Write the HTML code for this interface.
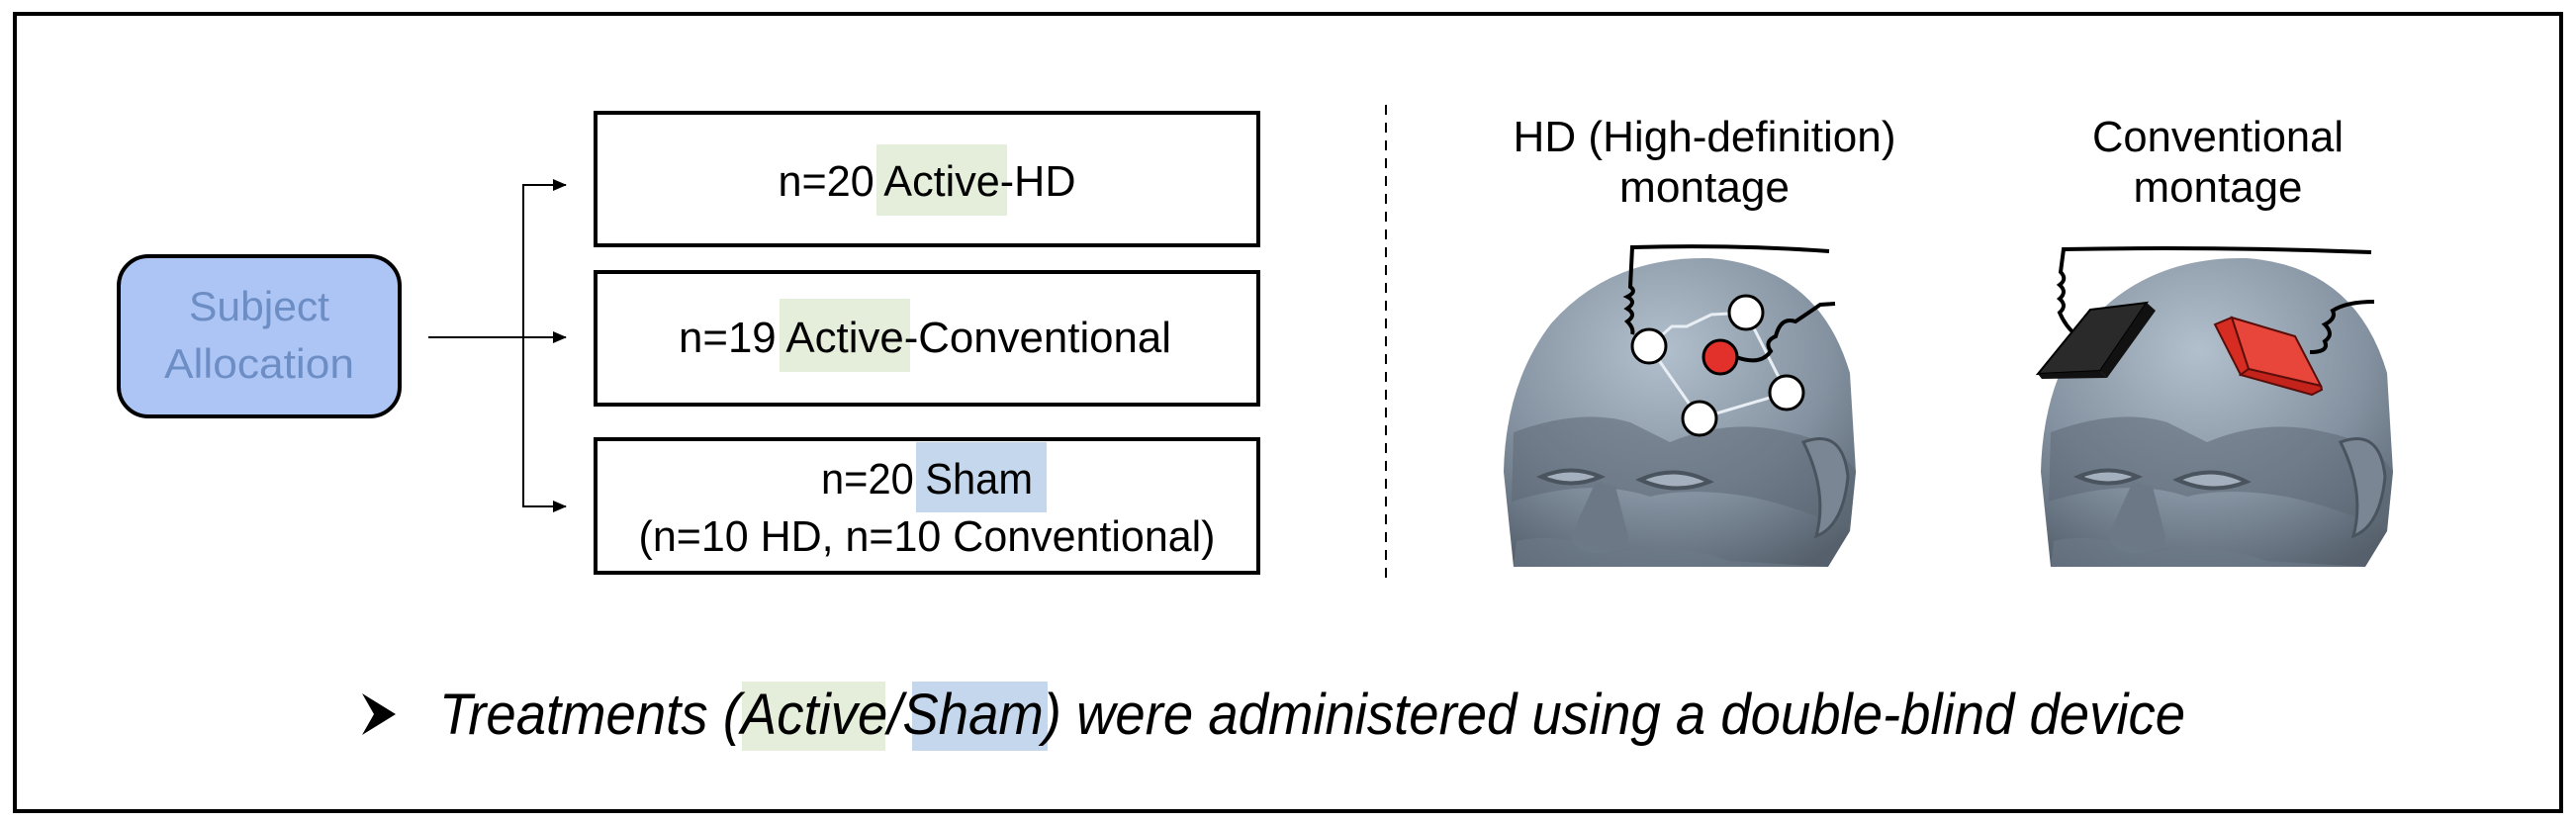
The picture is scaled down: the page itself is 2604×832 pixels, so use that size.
<!DOCTYPE html>
<html><head><meta charset="utf-8"><style>
html,body{margin:0;padding:0;background:#fff;}
svg{display:block;}
text{font-family:"Liberation Sans",sans-serif;}
</style></head><body>
<svg width="2604" height="832" viewBox="0 0 2604 832" xmlns="http://www.w3.org/2000/svg">
<defs>
<marker id="ah" markerWidth="14" markerHeight="12" refX="13" refY="6" orient="auto" markerUnits="userSpaceOnUse">
<path d="M0,0 L14,6 L0,12 Z" fill="#000"/></marker>
<radialGradient id="hg" cx="0.45" cy="0.3" r="0.8">
<stop offset="0" stop-color="#b2bfcc"/><stop offset="0.6" stop-color="#8391a0"/><stop offset="1" stop-color="#55606c"/></radialGradient>
<g id="head">
<path d="M12,326 L2,230 Q4,140 50,80 Q110,12 210,14 Q320,22 352,130 L358,230 L352,290 L330,326 Z" fill="url(#hg)"/>
<path d="M12,190 Q80,165 130,180 L170,200 Q230,175 290,190 Q340,200 358,230 L352,290 Q300,265 250,255 Q190,245 150,255 Q90,235 10,260 Z" fill="#5d6874" opacity="0.55"/>
<path d="M40,235 Q70,222 100,235 Q70,248 40,235 Z" fill="#a4b0bd" stroke="#4a545f" stroke-width="4"/>
<path d="M140,238 Q175,222 210,240 Q175,254 140,238 Z" fill="#a4b0bd" stroke="#4a545f" stroke-width="4"/>
<path d="M95,240 L70,295 Q75,315 105,312 Q130,310 128,295 L115,245 Z" fill="#6c7885"/>
<path d="M15,300 Q60,290 110,312 Q180,300 230,320 L330,326 L12,326 Z" fill="#6d7987" opacity="0.6"/>
<path d="M305,200 Q345,185 350,235 Q345,285 318,295 Q330,250 305,200 Z" fill="#7a8694" stroke="#4a545f" stroke-width="3"/>
</g>
</defs>
<rect x="15" y="14" width="2574" height="806" fill="none" stroke="#000" stroke-width="4"/>
<rect x="120" y="259" width="284" height="162" rx="30" fill="#adc5f5" stroke="#000" stroke-width="4"/>
<text x="262" y="324" text-anchor="middle" font-size="42" fill="#6d8ec5" textLength="142" lengthAdjust="spacingAndGlyphs">Subject</text>
<text x="262" y="382" text-anchor="middle" font-size="42" fill="#6d8ec5" textLength="192" lengthAdjust="spacingAndGlyphs">Allocation</text>
<line x1="433" y1="341" x2="572" y2="341" stroke="#000" stroke-width="2" marker-end="url(#ah)"/>
<polyline points="570,187 529,187 529,512 570,512" fill="none" stroke="#000" stroke-width="2"/>
<line x1="550" y1="187" x2="572" y2="187" stroke="#000" stroke-width="2" marker-end="url(#ah)"/>
<line x1="550" y1="512" x2="572" y2="512" stroke="#000" stroke-width="2" marker-end="url(#ah)"/>
<rect x="886" y="146" width="132" height="72" fill="#e5eedb"/>
<rect x="788" y="302" width="132" height="74" fill="#e5eedb"/>
<rect x="926" y="447" width="132" height="71" fill="#c5d7ec"/>
<rect x="602" y="114" width="670" height="134" fill="none" stroke="#000" stroke-width="4"/>
<rect x="602" y="275" width="670" height="134" fill="none" stroke="#000" stroke-width="4"/>
<rect x="602" y="444" width="670" height="135" fill="none" stroke="#000" stroke-width="4"/>
<text x="937" y="198" text-anchor="middle" font-size="44" textLength="301" lengthAdjust="spacingAndGlyphs">n=20 Active-HD</text>
<text x="935" y="356" text-anchor="middle" font-size="44" textLength="498" lengthAdjust="spacingAndGlyphs">n=19 Active-Conventional</text>
<text x="937" y="499" text-anchor="middle" font-size="44" textLength="214" lengthAdjust="spacingAndGlyphs">n=20 Sham</text>
<text x="937" y="557" text-anchor="middle" font-size="44" textLength="583" lengthAdjust="spacingAndGlyphs">(n=10 HD, n=10 Conventional)</text>
<rect x="750" y="689" width="145" height="70" fill="#e5eedb"/>
<rect x="922" y="689" width="137" height="70" fill="#c5d7ec"/>
<path d="M366,701 L400,722 L366,743 L378,722 Z" fill="#000"/>
<text x="444" y="742" font-size="58" font-style="italic" textLength="1765" lengthAdjust="spacingAndGlyphs">Treatments (Active/Sham) were administered using a double-blind device</text>
<line x1="1401" y1="106" x2="1401" y2="589" stroke="#000" stroke-width="2" stroke-dasharray="10,8"/>
<text x="1723" y="153" text-anchor="middle" font-size="44" textLength="387" lengthAdjust="spacingAndGlyphs">HD (High-definition)</text>
<text x="1723" y="204" text-anchor="middle" font-size="44" textLength="172" lengthAdjust="spacingAndGlyphs">montage</text>
<text x="2242" y="153" text-anchor="middle" font-size="44" textLength="254" lengthAdjust="spacingAndGlyphs">Conventional</text>
<text x="2242" y="204" text-anchor="middle" font-size="44" textLength="171" lengthAdjust="spacingAndGlyphs">montage</text>
<use href="#head" x="1518" y="247"/>
<polyline points="1667,350 1690,330 1705,330 1730,318 1765,316 1806,397 1718,423 1667,350" fill="none" stroke="#e8eef4" stroke-width="3"/>
<path d="M1849,254 Q1750,247 1650,250 L1648,290 Q1655,295 1645,300 Q1655,305 1645,312 Q1655,318 1645,325 Q1652,332 1650,338" fill="none" stroke="#000" stroke-width="4"/>
<path d="M1755,361 Q1780,370 1790,355 Q1783,345 1795,340 Q1800,320 1815,325 Q1830,315 1840,308 L1855,307" fill="none" stroke="#000" stroke-width="4"/>
<g stroke="#000" stroke-width="3">
<circle cx="1667" cy="350" r="17" fill="#fff"/>
<circle cx="1765" cy="316" r="17" fill="#fff"/>
<circle cx="1806" cy="397" r="17" fill="#fff"/>
<circle cx="1718" cy="423" r="17" fill="#fff"/>
<circle cx="1739" cy="361" r="17" fill="#e2302a"/>
</g>
<use href="#head" x="2061" y="247"/>
<path d="M2397,255 Q2240,249 2086,252 L2083,275 Q2090,282 2082,288 Q2090,295 2082,302 Q2090,309 2082,316 Q2088,330 2098,338" fill="none" stroke="#000" stroke-width="4"/>
<path d="M2335,356 Q2355,356 2350,345 Q2360,338 2350,328 Q2362,322 2358,314 Q2372,305 2400,305" fill="none" stroke="#000" stroke-width="4"/>
<polygon points="2113,313 2170,306 2123,375 2060,378" fill="#2a2a2a" stroke="#000" stroke-width="2"/>
<polygon points="2170,306 2179,314 2130,382 2123,375" fill="#111"/>
<polygon points="2060,378 2123,375 2130,382 2064,383" fill="#111"/>
<polygon points="2256,321 2320,340 2346,390 2273,373" fill="#e8453b" stroke="#5a0e0a" stroke-width="2"/>
<polygon points="2239,328 2256,321 2273,373 2265,379" fill="#d62c22" stroke="#5a0e0a" stroke-width="2"/>
<polygon points="2273,373 2346,390 2347,394 2337,399 2265,379" fill="#c4231c" stroke="#5a0e0a" stroke-width="2"/>
</svg>
</body></html>
